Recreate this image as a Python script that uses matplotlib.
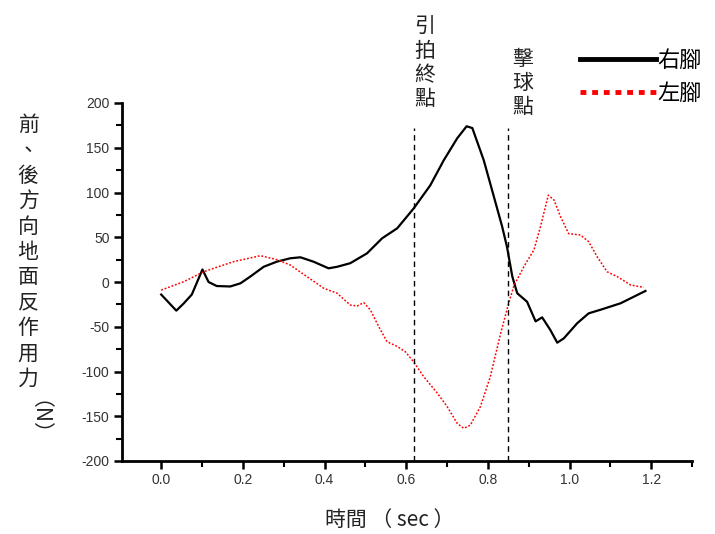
import matplotlib
matplotlib.use("Agg")
import matplotlib.pyplot as plt
from matplotlib.ticker import MultipleLocator

plt.rcParams["axes.unicode_minus"] = False

# 右腳 (black, solid)
right_t = [0.0, 0.037, 0.055, 0.075, 0.101, 0.116, 0.136, 0.169, 0.194, 0.218,
           0.251, 0.283, 0.316, 0.341, 0.373, 0.41, 0.431, 0.463, 0.504, 0.541,
           0.578, 0.618, 0.659, 0.692, 0.725, 0.748, 0.762, 0.79, 0.815, 0.835,
           0.847, 0.86, 0.872, 0.896, 0.917, 0.933, 0.953, 0.97, 0.986, 1.019,
           1.047, 1.076, 1.125, 1.186]
right_f = [-14, -32, -24, -14, 14, 0, -4.5, -5, -1.5, 6,
           17, 22.7, 26.5, 27.6, 22.7, 15.3, 17, 21, 32, 48.8,
           60, 82, 108, 136, 160.6, 174, 172, 136, 95, 62,
           39, 6, -12.6, -22, -44, -39.5, -53.6, -67.8, -63, -46,
           -35, -31, -23.8, -10]

# 左腳 (red, dotted)
left_t = [0.0, 0.055, 0.104, 0.177, 0.243, 0.283, 0.316, 0.357, 0.398, 0.431,
          0.463, 0.48, 0.496, 0.512, 0.533, 0.553, 0.578, 0.598, 0.618, 0.643,
          0.676, 0.7, 0.725, 0.741, 0.757, 0.782, 0.806, 0.831, 0.851, 0.864,
          0.888, 0.913, 0.929, 0.948, 0.962, 0.978, 0.998, 1.027, 1.047, 1.068,
          1.092, 1.117, 1.15, 1.182]
left_f = [-9, 0.3, 11.5, 22.7, 29.4, 25, 19, 6, -7, -12.6,
          -25.7, -26.8, -23, -31, -50, -66.7, -72, -78, -89, -105.8,
          -124, -139, -158, -163.5, -160, -139, -105.8, -58, -23.8, -4,
          17, 36, 62, 97, 91.6, 73, 54, 52.5, 45, 28,
          11.5, 6, -3.4, -6]

event_t = [0.618, 0.85]
event_labels = ["引\n拍\n終\n點", "擊\n球\n點"]

cjk = ["Noto Sans CJK TC", "DejaVu Sans"]

fig = plt.figure(figsize=(7.15, 5.34), dpi=100)
ax = fig.add_axes([122 / 715, 1 - 461 / 534, (692 - 122) / 715, (461 - 103) / 534])

ax.plot(right_t, right_f, color="black", lw=1.6, label="右腳")
ax.plot(left_t, left_f, color="red", lw=1.1, linestyle=(0, (1.2, 1.2)), label="左腳")

ax.vlines(event_t, -200, 172, colors="black", linestyles=(0, (4, 3)), lw=1.0)

ax.set_xlim(-0.096, 1.3)
ax.set_ylim(-200, 200)
ax.xaxis.set_major_locator(MultipleLocator(0.2))
ax.xaxis.set_minor_locator(MultipleLocator(0.1))
ax.yaxis.set_major_locator(MultipleLocator(50))
ax.yaxis.set_minor_locator(MultipleLocator(25))

for s in ["top", "right"]:
    ax.spines[s].set_visible(False)
for s in ["left", "bottom"]:
    ax.spines[s].set_linewidth(2)

ax.tick_params(which="major", direction="out", length=6, width=1.8,
               labelsize=10, labelcolor="#333333", pad=3)
ax.tick_params(which="minor", direction="out", length=4, width=1.5)
for lab in ax.get_xticklabels() + ax.get_yticklabels():
    lab.set_family("Liberation Sans")

# event annotations
fig.text(425 / 715, 1 - 16 / 534, event_labels[0], family=cjk, fontsize=15,
         ha="center", va="top", linespacing=1.12, color="#222222")
fig.text(523 / 715, 1 - 48 / 534, event_labels[1], family=cjk, fontsize=15,
         ha="center", va="top", linespacing=1.12, color="#222222")

# axis labels
fig.text(28 / 715, 1 - 114 / 534, "前\n、\n後\n方\n向\n地\n面\n反\n作\n用\n力",
         family=cjk, fontsize=15, ha="center", va="top", linespacing=1.2,
         color="#222222")
fig.text(28 / 715, 1 - 400 / 534, "（N）", family=cjk, fontsize=15,
         ha="center", va="top", rotation=-90, color="#222222")
fig.text(390 / 715, 1 - 520 / 534, "時間 （ sec ）", family=cjk, fontsize=15,
         ha="center", va="center", color="#222222")

leg = ax.legend(loc="upper left", bbox_to_anchor=(580 / 715, 1 - 49 / 534),
                bbox_transform=fig.transFigure, frameon=False,
                handlelength=3.4, handletextpad=0.1, labelspacing=0.45,
                borderpad=0, borderaxespad=0, prop={"family": cjk, "size": 16})
for line in leg.get_lines():
    line.set_linewidth(3.5)

fig.savefig("out.png", dpi=100)
